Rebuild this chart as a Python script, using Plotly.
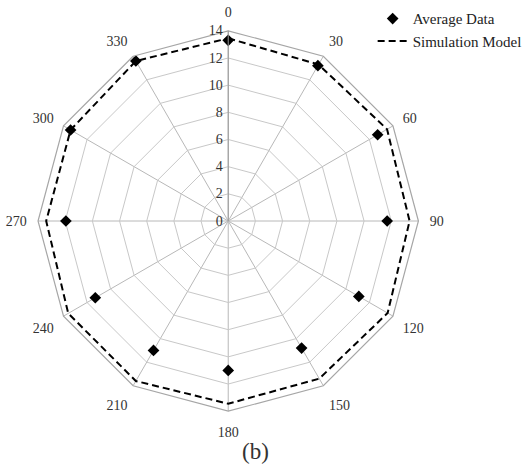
import plotly.graph_objects as go

angles = [0, 30, 60, 90, 120, 150, 180, 210, 240, 270, 300, 330]
angle_labels = [str(a) for a in angles]
average_data = [13.3, 13.2, 12.7, 11.7, 11.1, 10.8, 11.0, 11.0, 11.3, 11.95, 13.4, 13.6]
simulation_model = [13.45, 13.3, 13.5, 13.35, 13.55, 13.4, 13.45, 13.6, 13.6, 13.4, 13.4, 13.6]
radial_ticks = [0, 2, 4, 6, 8, 10, 12, 14]

font_family = "Liberation Serif, Times New Roman, serif"

fig = go.Figure()
fig.add_trace(go.Scatterpolar(
    r=average_data, theta=angle_labels, mode="markers", name="Average Data",
    marker=dict(symbol="diamond", size=9, color="black"),
))
fig.add_trace(go.Scatterpolar(
    r=simulation_model + simulation_model[:1], theta=angle_labels + angle_labels[:1],
    mode="lines", name="Simulation Model",
    line=dict(color="black", width=2, dash="7px,4px"),
))

fig.update_layout(
    width=527, height=468,
    margin=dict(l=0, r=0, t=0, b=0),
    paper_bgcolor="white",
    font=dict(family=font_family, size=14, color="#333333"),
    polar=dict(
        domain=dict(x=[39/527, 429/527], y=[52/468, 442/468]),
        gridshape="linear",
        bgcolor="white",
        angularaxis=dict(
            type="category", categoryorder="array", categoryarray=angle_labels,
            rotation=90, direction="clockwise",
            showgrid=True, gridcolor="#b8b8b8", gridwidth=1,
            linecolor="#a6a6a6", linewidth=1.2,
            ticks="outside", ticklen=8, tickcolor="rgba(0,0,0,0)",
            tickfont=dict(size=14, color="#333333"),
        ),
        radialaxis=dict(
            range=[0, 14], tickmode="array", tickvals=radial_ticks,
            angle=90, side="counterclockwise", tickangle=90,
            showline=True, linecolor="#999999", linewidth=1,
            showgrid=True, gridcolor="#c8c8c8", gridwidth=1,
            ticks="", tickfont=dict(size=14, color="#333333"),
        ),
    ),
    legend=dict(
        x=0.725, y=0.995, xanchor="left", yanchor="top",
        bgcolor="rgba(0,0,0,0)", font=dict(size=15, color="#222222"),
        tracegroupgap=4, itemwidth=30,
    ),
    annotations=[dict(
        text="(b)", x=262/527, y=0.035, xref="paper", yref="paper",
        xanchor="center", yanchor="middle",
        showarrow=False, font=dict(size=23, color="#333333", family=font_family),
    )],
)

fig.write_html("out.html")
